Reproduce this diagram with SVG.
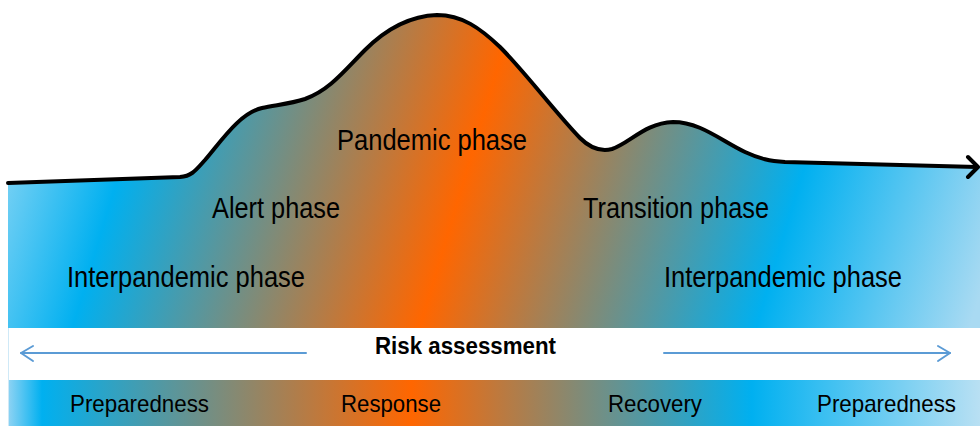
<svg xmlns="http://www.w3.org/2000/svg" width="980" height="426" viewBox="0 0 980 426">
  <defs>
    <linearGradient id="gMain" gradientUnits="userSpaceOnUse" x1="0" y1="0" x2="980" y2="294">
      <stop offset="0" stop-color="#b3e1f6"/>
      <stop offset="0.16" stop-color="#00b0f0"/>
      <stop offset="0.485" stop-color="#ff6600"/>
      <stop offset="0.80" stop-color="#00b0f0"/>
      <stop offset="1" stop-color="#a9daf2"/>
    </linearGradient>
    <linearGradient id="gBottom" gradientUnits="userSpaceOnUse" x1="8" y1="0" x2="980" y2="0">
      <stop offset="0" stop-color="#8fd3f3"/>
      <stop offset="0.035" stop-color="#00b0f0"/>
      <stop offset="0.415" stop-color="#ff6600"/>
      <stop offset="0.765" stop-color="#00b0f0"/>
      <stop offset="1" stop-color="#b9e0f3"/>
    </linearGradient>
    <style>
      .lbl { font-family: "Liberation Sans Narrow", "Liberation Sans", Arial, sans-serif; fill: #000; }
      .big { font-size: 30px; }
      .small { font-size: 24px; }
      .risk { font-size: 23px; font-weight: bold; }
      .curve { fill: none; stroke: #000; stroke-width: 4; stroke-linecap: round; stroke-linejoin: round; }
      .rarrow { fill: none; stroke: #5b9bd5; stroke-width: 2; stroke-linecap: round; stroke-linejoin: round; }
    </style>
  </defs>

  <g id="phase-area">
    <path fill="url(#gMain)" d="M8,183 L180,177 C192,176 196,170 205,160 C222,140 240,113 262,108 C275,105 290,104 305,99 C330,90 345,70 365,50 C385,30 410,16 437,15 C462,15 480,28 500,47 C525,72 555,112 580,138 C590,148 600,152 612,149 C630,143 645,123 673,122 C700,122 720,140 745,152 C760,159 770,161 785,162 L980,167 L980,328 L8,328 Z"/>
    <path class="curve" d="M8,183 L180,177 C192,176 196,170 205,160 C222,140 240,113 262,108 C275,105 290,104 305,99 C330,90 345,70 365,50 C385,30 410,16 437,15 C462,15 480,28 500,47 C525,72 555,112 580,138 C590,148 600,152 612,149 C630,143 645,123 673,122 C700,122 720,140 745,152 C760,159 770,161 785,162 L977,167"/>
    <polyline class="curve" points="968,157 978,167 968,177"/>
  </g>

  <g id="phase-labels">
    <text class="lbl big" x="337" y="150" textLength="190" lengthAdjust="spacingAndGlyphs">Pandemic phase</text>
    <text class="lbl big" x="212" y="218" textLength="128" lengthAdjust="spacingAndGlyphs">Alert phase</text>
    <text class="lbl big" x="583" y="218" textLength="186" lengthAdjust="spacingAndGlyphs">Transition phase</text>
    <text class="lbl big" x="67" y="287" textLength="238" lengthAdjust="spacingAndGlyphs">Interpandemic phase</text>
    <text class="lbl big" x="664" y="287" textLength="238" lengthAdjust="spacingAndGlyphs">Interpandemic phase</text>
  </g>

  <g id="risk-band">
    <rect x="8" y="328" width="972" height="52" fill="#ffffff"/>
    <line x1="8.5" y1="328" x2="8.5" y2="426" stroke="#cfe9f7" stroke-width="1"/>
    <text class="lbl risk" x="375" y="354" textLength="181" lengthAdjust="spacingAndGlyphs">Risk assessment</text>
  </g>

  <g id="connectors">
    <line class="rarrow" x1="21" y1="353" x2="306" y2="353"/>
    <polyline class="rarrow" points="33,346 21,353 33,361"/>
    <line class="rarrow" x1="664" y1="353" x2="950" y2="353"/>
    <polyline class="rarrow" points="938,346 950,353 938,361"/>
  </g>

  <g id="activity-band">
    <rect x="9" y="380" width="971" height="46" fill="url(#gBottom)"/>
    <text class="lbl small" x="70" y="412" textLength="139" lengthAdjust="spacingAndGlyphs">Preparedness</text>
    <text class="lbl small" x="341" y="412" textLength="100" lengthAdjust="spacingAndGlyphs">Response</text>
    <text class="lbl small" x="608" y="412" textLength="94" lengthAdjust="spacingAndGlyphs">Recovery</text>
    <text class="lbl small" x="817" y="412" textLength="139" lengthAdjust="spacingAndGlyphs">Preparedness</text>
  </g>
</svg>
